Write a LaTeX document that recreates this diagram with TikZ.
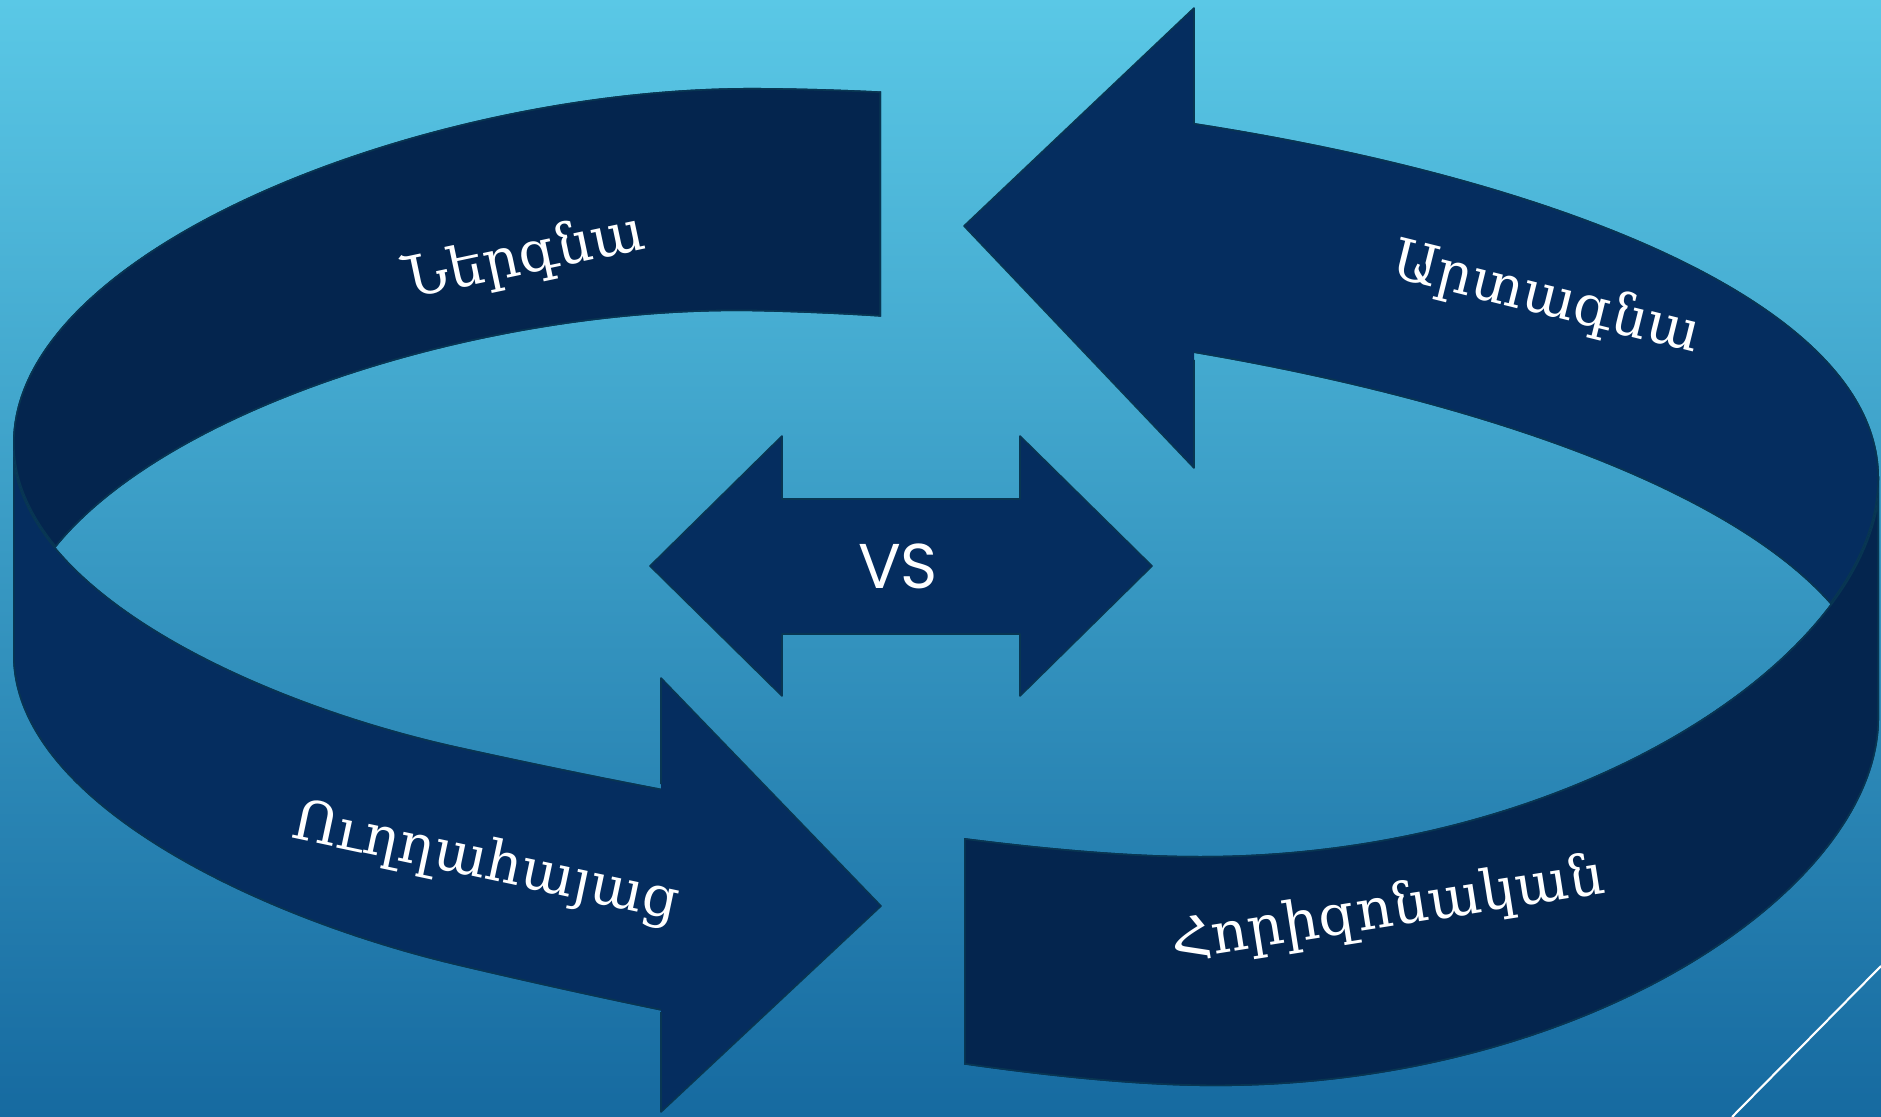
\documentclass[tikz,border=0pt]{standalone}
\usepackage{fontspec}
\newfontfamily\armfont{DejaVu Serif}
\newfontfamily\vsfont{Poppins}
\usepackage{tikz}
\usepackage{xcolor}
\definecolor{bgtop}{RGB}{90,200,230}
\definecolor{bgbot}{RGB}{22,106,160}
\definecolor{ringdark}{RGB}{4,37,78}
\definecolor{ringlight}{RGB}{5,45,95}
\definecolor{ringedge}{RGB}{8,54,82}
\tikzstyle{rimline} = [draw=ringedge, line width=0.9pt]
\tikzstyle{headline} = [draw=ringedge, line width=0.45pt, line join=round]
\tikzstyle{ringlabel} = [text=white, font=\armfont\fontsize{16}{19}\selectfont, inner sep=0pt]

% rim of the ring, moved down by #1 + #2*x (runs clockwise)
\newcommand\rimtop[2]{(13,443+#1+#2*13) .. controls (13,247+#1+#2*13) and (430,85.4+#1+#2*430) .. (760,88+#1+#2*760) .. controls (1280,92+#1+#2*1280) and (1879,240+#1+#2*1879) .. (1879,478+#1+#2*1879)}
\newcommand\rimbottom[2]{.. controls (1879,650+#1+#2*1879) and (1580,856+#1+#2*1580) .. (1200,856+#1+#2*1200) .. controls (960,856+#1+#2*960) and (559,769+#1+#2*559) .. (459,747+#1+#2*459) .. controls (259,703+#1+#2*259) and (13,590+#1+#2*13) .. (13,443+#1+#2*13)}
\newcommand\rimpath[2]{\rimtop{#1}{#2} \rimbottom{#1}{#2} -- cycle}
% outline of the whole band
\newcommand\bandpath{\rimtop{0}{0} -- (1879,478+212+0.015*1879) \rimbottom{212}{0.015} -- cycle}
% everything outside a rim (frame runs the other way)
\newcommand\outsiderim[2]{(-10,-10) -- (-10,1127) -- (1891,1127) -- (1891,-10) -- cycle \rimpath{#1}{#2}}

\begin{document}
\begin{tikzpicture}[x=0.1mm,y=-0.1mm]
\useasboundingbox (0,0) rectangle (1881,1117);
% Background
\shade[top color=bgtop, bottom color=bgbot] (0,0) rectangle (1881,1117);
\draw[white, line width=0.6pt] (1732,1117) -- (1881,966);

% Back, left part
\begin{scope}
\clip (0,0) rectangle (881,1117);
\clip \rimpath{0}{0};
\clip \outsiderim{212}{0.015};
\fill[ringdark] (0,0) rectangle (1881,1117);
\draw[rimline] \rimpath{0}{0} \rimpath{212}{0.015} (881,0) -- (881,1117);
\end{scope}

% Back, right part with head
\begin{scope}
\clip (1188,0) rectangle (1881,1117);
\clip \rimpath{0}{0};
\clip \outsiderim{212}{0.015};
\fill[ringlight] (0,0) rectangle (1881,1117);
\draw[rimline] \rimpath{0}{0} \rimpath{212}{0.015};
\end{scope}
\fill[ringlight] (1194,8) -- (964,226) -- (1194,468) -- cycle;
\draw[headline] (1194,124) -- (1194,8) -- (964,226) -- (1194,468) -- (1194,360);

% Front, left part with head
\begin{scope}
\clip (0,440) rectangle (667,1117);
\clip \bandpath;
\clip \outsiderim{0}{0};
\fill[ringlight] (0,0) rectangle (1881,1117);
\draw[rimline] \bandpath \rimpath{0}{0};
\end{scope}
\fill[ringlight] (661,678) -- (881,906) -- (661,1112) -- cycle;
\draw[headline] (661,784) -- (661,678) -- (881,906) -- (661,1112) -- (661,1012);

% Front, right part
\begin{scope}
\clip (964,470) rectangle (1881,1117);
\clip \bandpath;
\clip \outsiderim{0}{0};
\fill[ringdark] (0,0) rectangle (1881,1117);
\draw[rimline] \bandpath \rimpath{0}{0} (964,0) -- (964,1117);
\end{scope}

% Middle double arrow
\fill[ringlight] (650,566) -- (782,436) -- (782,499) -- (1020,499) -- (1020,436) -- (1152,566)
  -- (1020,696) -- (1020,634) -- (782,634) -- (782,696) -- cycle;
\draw[headline] (650,566) -- (782,436) -- (782,499) -- (1020,499) -- (1020,436) -- (1152,566)
  -- (1020,696) -- (1020,634) -- (782,634) -- (782,696) -- cycle;
\node[text=white, font=\vsfont\fontsize{18}{20}\selectfont] (vs) at (898,566) {VS};

% Labels on the ring
\node[ringlabel, rotate=12] (incoming) at (525,258) {Ներգնա};
\node[ringlabel, rotate=-14] (outgoing) at (1546,299) {Արտագնա};
\node[ringlabel, rotate=-12] (vertical) at (486,864) {Ուղղահայաց};
\node[ringlabel, rotate=9] (horizontal) at (1388,911) {Հորիզոնական};
\end{tikzpicture}
\end{document}
